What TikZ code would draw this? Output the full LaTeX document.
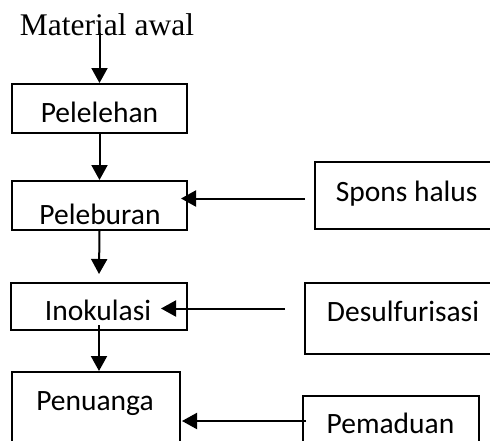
\documentclass[tikz,border=0pt]{standalone}
\usepackage{fontspec}
\setmainfont{Liberation Serif}
\newfontfamily\calfont{Carlito}
\usetikzlibrary{arrows.meta}
\begin{document}
\begin{tikzpicture}[x=1pt,y=-1pt,
  box/.style={draw=black,line width=2pt,rectangle,inner sep=0pt},
  lbl/.style={anchor=base,inner sep=0pt,font=\calfont\fontsize{29.5}{34}\selectfont},
  arr/.style={line width=2pt,-{Triangle[width=16pt,length=15pt]}}]
\useasboundingbox (0,0) rectangle (490,440);
\clip (0,0) rectangle (490,440);
\fill[white] (0,0) rectangle (490,440);
% title
\node[anchor=base,inner sep=0pt,font=\fontsize{31.5}{36}\selectfont] (mat) at (107,35) {Material awal};
% left boxes
\node[box,minimum width=175pt,minimum height=49pt] (pel) at (99.5,108.5) {};
\node[lbl] (tpel) at (99.5,122.5) {Pelelehan};
\node[box,minimum width=175pt,minimum height=49pt] (pelb) at (99.5,205.5) {};
\node[lbl] (tpelb) at (100,224.5) {Peleburan};
\node[box,minimum width=176pt,minimum height=47pt] (ino) at (99,306.5) {};
\node[lbl] (tino) at (98,320) {Inokulasi};
\node[box,minimum width=168pt,minimum height=88pt] (pen) at (96,416) {};
\node[lbl] (tpen) at (95,410) {Penuanga};
% right boxes
\node[box,minimum width=205pt,minimum height=67pt] (spons) at (417.5,195.5) {};
\node[lbl] (tspons) at (406.7,201.7) {Spons halus};
\node[box,minimum width=215pt,minimum height=71pt] (des) at (412.5,318.5) {};
\node[lbl] (tdes) at (403,321.7) {Desulfurisasi};
\node[box,minimum width=176pt,minimum height=64pt] (pem) at (391,428) {};
\node[lbl] (tpem) at (390.5,433) {Pemaduan};
% vertical arrows
\draw[arr] (pel.north |- 0,33) -- (pel.north);
\draw[arr] (pel.south) -- (pelb.north);
\draw[arr] (pelb.south) -- ([yshift=8pt]ino.north);
\draw[arr] ([yshift=6pt]ino.south) -- (ino.south |- pen.north);
% horizontal arrows
\draw[arr] ([xshift=-9pt,yshift=-3pt]spons.west) -- ([xshift=-7pt,yshift=-3pt]spons.west -| pelb.east);
\draw[arr] ([xshift=-19pt,yshift=10pt]des.west) -- ([xshift=-27pt,yshift=10pt]des.west -| ino.east);
\draw[arr] ([xshift=4pt,yshift=7pt]pem.west) -- ([xshift=1pt,yshift=7pt]pem.west -| pen.east);
\end{tikzpicture}
\end{document}
